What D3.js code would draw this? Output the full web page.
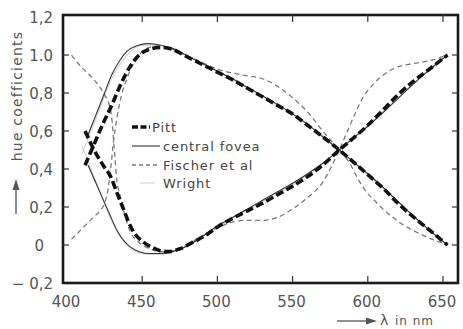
<!DOCTYPE html>
<html><head><meta charset="utf-8">
<script src="https://cdn.jsdelivr.net/npm/d3@7"></script>
<style>body{margin:0;background:#fff}svg{display:block}</style>
</head><body>
<svg id="c" width="463" height="329"></svg>
<script>
// ---- data ----
const xTicks = [450, 500, 550, 600, 650];
const xTickLabels = ["400", "450", "500", "550", "600", "650"];
const xLabelValues = [400, 450, 500, 550, 600, 650];
const yTickValues = [1.2, 1.0, 0.8, 0.6, 0.4, 0.2, 0, -0.2];
const yTickLabels = ["1,2", "1.0", "0,8", "0,6", "0,4", "0,2", "0", "\u2212 0,2"];
const yInnerTicks = [1.0, 0.8, 0.6, 0.4, 0.2, 0];

const pittA_nm = [412,418,424,430,436,442,448,455,462,470,480,490,500,510,520,530,540,550,560,570,581,590,600,610,620,630,640,653];
const pittA_v  = [0.42,0.53,0.64,0.74,0.85,0.94,1.0,1.03,1.04,1.03,0.99,0.95,0.91,0.87,0.825,0.78,0.735,0.69,0.63,0.57,0.50,0.44,0.37,0.30,0.22,0.15,0.085,0.0];
const pittB_nm = [412,418,424,429,433,437,441,445,450,456,462,468,475,485,492,500,510,520,530,540,550,560,570,581,590,600,610,620,630,640,653];
const pittB_v  = [0.60,0.50,0.42,0.36,0.28,0.20,0.12,0.06,0.02,-0.01,-0.03,-0.035,-0.02,0.02,0.05,0.095,0.14,0.18,0.22,0.265,0.31,0.36,0.42,0.50,0.56,0.63,0.71,0.79,0.86,0.92,1.0];

const foveaA_nm = [414,418,424,430,435,440,447,453,460,470,480,490,500,510,520,530,540,550,560,570,581,590,600,610,620,630,640,653];
const foveaA_v  = [0.58,0.66,0.78,0.90,0.97,1.02,1.05,1.06,1.055,1.035,0.995,0.955,0.915,0.875,0.83,0.785,0.74,0.69,0.635,0.57,0.50,0.44,0.375,0.305,0.23,0.155,0.085,0.0];
const foveaB_nm = [414,419,424,429,433,438,442,448,455,462,470,480,490,500,510,520,530,540,550,560,570,581,590,600,610,620,630,640,653];
const foveaB_v  = [0.42,0.33,0.24,0.15,0.08,0.02,-0.01,-0.035,-0.045,-0.045,-0.035,-0.005,0.045,0.10,0.145,0.19,0.235,0.28,0.325,0.375,0.43,0.50,0.56,0.625,0.695,0.77,0.845,0.915,1.0];

const fischerA_nm = [403,408,413,418,422,425,427,429,431,433,436,440,444,449,455,462,470,480,490,500,510,520,530,540,550,560,570,581,588,594,599,605,610,616,621,627,633,643,653];
const fischerA_v  = [0.03,0.07,0.11,0.15,0.18,0.22,0.28,0.40,0.55,0.66,0.78,0.88,0.95,1.01,1.04,1.045,1.03,0.995,0.96,0.925,0.905,0.89,0.875,0.835,0.775,0.70,0.60,0.50,0.43,0.34,0.28,0.23,0.19,0.15,0.12,0.09,0.065,0.03,0.0];
const fischerB_nm = [403,408,413,418,422,425,428,430,431,432,433,435,438,442,447,455,462,470,480,490,500,510,520,530,540,550,560,570,581,586,592,597,603,608,614,619,630,641,653];
const fischerB_v  = [1.0,0.95,0.91,0.87,0.83,0.79,0.74,0.65,0.55,0.45,0.35,0.27,0.17,0.07,0.02,-0.02,-0.035,-0.03,0.0,0.05,0.09,0.12,0.13,0.13,0.145,0.19,0.25,0.33,0.50,0.59,0.70,0.78,0.84,0.88,0.915,0.935,0.955,0.97,1.0];

const wrightA_nm = [410,420,430,440,450,460,470,490,510,530,550,570,581,600,620,640,653];
const wrightA_v  = [0.48,0.68,0.88,1.0,1.05,1.05,1.03,0.955,0.87,0.78,0.685,0.575,0.50,0.37,0.225,0.08,0.0];
const wrightB_nm = [410,420,430,440,450,460,470,490,510,530,550,570,581,600,620,640,653];
const wrightB_v  = [0.52,0.32,0.12,0.0,-0.045,-0.05,-0.035,0.045,0.14,0.225,0.315,0.425,0.50,0.63,0.775,0.92,1.0];

const legendNames = ["Pitt", "central fovea", "Fischer et al", "Wright"];

// ---- drawing ----
const svg = d3.select("#c");
const x = d3.scaleLinear().domain([400, 650]).range([67, 443]);
const y = d3.scaleLinear().domain([-0.2, 1.2]).range([283, 17]);
const frame = {x0: 63, x1: 458, y0: 15, y1: 283};

const styles = [
  {stroke: "#111", width: 3.6, dash: "8,3.5"},
  {stroke: "#333", width: 1.1, dash: null},
  {stroke: "#7a7a7a", width: 1.3, dash: "5,3.5"},
  {stroke: "#d6d6d6", width: 1.2, dash: null}
];
const series = [
  [[wrightA_nm, wrightA_v], [wrightB_nm, wrightB_v], 3],
  [[fischerA_nm, fischerA_v], [fischerB_nm, fischerB_v], 2],
  [[foveaA_nm, foveaA_v], [foveaB_nm, foveaB_v], 1],
  [[pittA_nm, pittA_v], [pittB_nm, pittB_v], 0]
];
const line = d3.line().x(d => x(d[0])).y(d => y(d[1])).curve(d3.curveMonotoneX);
series.forEach(([a, b, si]) => {
  [a, b].forEach(([nm, v]) => {
    const pts = nm.map((n, i) => [n, v[i]]);
    const st = styles[si];
    svg.append("path").attr("d", line(pts)).attr("fill", "none")
      .attr("stroke", st.stroke).attr("stroke-width", st.width)
      .attr("stroke-dasharray", st.dash).attr("stroke-linejoin", "round");
  });
});

// frame
svg.append("rect").attr("x", frame.x0).attr("y", frame.y0)
  .attr("width", frame.x1 - frame.x0).attr("height", frame.y1 - frame.y0)
  .attr("fill", "none").attr("stroke", "#1a1a1a").attr("stroke-width", 2.6);

// inner ticks
const tk = svg.append("g").attr("stroke", "#333").attr("stroke-width", 1.2);
xTicks.forEach(t => {
  tk.append("line").attr("x1", x(t)).attr("x2", x(t)).attr("y1", frame.y1).attr("y2", frame.y1 - 7);
  tk.append("line").attr("x1", x(t)).attr("x2", x(t)).attr("y1", frame.y0).attr("y2", frame.y0 + 7);
});
yInnerTicks.forEach(t => {
  tk.append("line").attr("x1", frame.x0).attr("x2", frame.x0 + 6).attr("y1", y(t)).attr("y2", y(t));
  tk.append("line").attr("x1", frame.x1).attr("x2", frame.x1 - 6).attr("y1", y(t)).attr("y2", y(t));
});

const font = "'DejaVu Sans', sans-serif";
// tick labels
xLabelValues.forEach((v, i) => {
  svg.append("text").attr("x", x(v) - 1).attr("y", 307).attr("text-anchor", "middle")
    .attr("font-family", font).attr("font-size", 15).attr("fill", "#555").text(xTickLabels[i]);
});
yTickValues.forEach((v, i) => {
  const lab = yTickLabels[i];
  svg.append("text").attr("x", lab === "0" ? 44 : 53).attr("y", y(v) + 5.5).attr("text-anchor", "end")
    .attr("font-family", font).attr("font-size", 15).attr("fill", "#555").text(lab);
});

// y title
svg.append("text").attr("transform", "translate(22,96) rotate(-90)")
  .attr("text-anchor", "middle").attr("font-family", font).attr("font-size", 14)
  .attr("letter-spacing", 1.2).attr("fill", "#555").text("hue coefficients");
svg.append("line").attr("x1", 16).attr("x2", 16).attr("y1", 214).attr("y2", 188)
  .attr("stroke", "#555").attr("stroke-width", 1.3);
svg.append("path").attr("d", "M16,179 L12.5,190 L19.5,190 Z").attr("fill", "#555");

// x title
svg.append("line").attr("x1", 337).attr("x2", 368).attr("y1", 321).attr("y2", 321)
  .attr("stroke", "#555").attr("stroke-width", 1.3);
svg.append("path").attr("d", "M377,321 L366,317.5 L366,324.5 Z").attr("fill", "#555");
svg.append("text").attr("x", 380).attr("y", 325).attr("font-family", font).attr("font-size", 14)
  .attr("fill", "#555").text("\u03bb");
svg.append("text").attr("x", 395).attr("y", 325).attr("font-family", font).attr("font-size", 12)
  .attr("letter-spacing", 1).attr("fill", "#555").text("in nm");

// legend
const legY = [127, 146, 165, 183];
const legX0 = [132, 132, 132, 140];
const legX1 = [150, 160, 160, 155];
const legTX = [152, 163, 163, 163];
legendNames.forEach((name, i) => {
  const st = styles[i];
  svg.append("line").attr("x1", legX0[i]).attr("x2", legX1[i]).attr("y1", legY[i]).attr("y2", legY[i])
    .attr("stroke", st.stroke).attr("stroke-width", st.width)
    .attr("stroke-dasharray", i === 0 ? "6,2.5,6,2.5,3" : (i === 2 ? "4,3" : null));
  svg.append("text").attr("x", legTX[i]).attr("y", legY[i] + 5).attr("font-family", font)
    .attr("font-size", 13).attr("letter-spacing", 0.9).attr("fill", "#444").text(name);
});
</script>
</body></html>
